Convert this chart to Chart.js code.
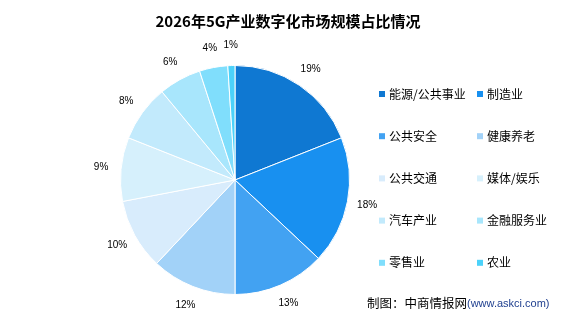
<!DOCTYPE html>
<html>
<head>
<meta charset="utf-8">
<script src="https://cdn.jsdelivr.net/npm/chart.js@4/dist/chart.umd.min.js"></script>
<style>
  html, body { margin: 0; padding: 0; background: #fff; }
  #box { width: 576px; height: 327px; position: relative; }
</style>
</head>
<body>
<div id="box"><canvas id="pie"></canvas></div>
<script>
let title = "2026年5G产业数字化市场规模占比情况",
    sectors = ["能源/公共事业","制造业","公共安全","健康养老","公共交通","媒体/娱乐","汽车产业","金融服务业","零售业","农业"],
    shares = [19,18,13,12,10,9,8,6,4,1],
    colors = ["#0f78d2","#1890f0","#42a2f2","#a2d2f8","#d8ecfc","#d6f0fc","#c2eafc","#a8e6fc","#80defc","#4cd2fa"],
    cjk = '"Noto Sans CJK SC", sans-serif'

// title, outside % labels, two-column legend, source line
let extras = {
    id: "extras",
    afterDraw(chart) {
        let ctx = chart.ctx
        ctx.save()
        ctx.fillStyle = "#000"
        ctx.font = "bold 15px " + cjk
        ctx.textAlign = "center"
        ctx.textBaseline = "middle"
        ctx.fillText(title, 288, 21)

        // percent labels a little outside each slice
        ctx.font = "10px 'Liberation Sans', sans-serif"
        chart.getDatasetMeta(0).data.forEach((arc, i) => {
            let mid = (arc.startAngle + arc.endAngle) / 2,
                r = arc.outerRadius + 20
            ctx.fillText(shares[i] + "%", arc.x + Math.cos(mid) * r, arc.y + Math.sin(mid) * r)
        })

        // legend
        ctx.textAlign = "left"
        ctx.font = "12px " + cjk
        chart.data.labels.forEach((lab, i) => {
            let col = i % 2, row = Math.floor(i / 2),
                x = col ? 477 : 379,
                y = 94 + row * 42.2
            ctx.fillStyle = chart.data.datasets[0].backgroundColor[i]
            ctx.fillRect(x, y - 3, 6, 6)
            ctx.fillStyle = "#000"
            ctx.fillText(lab, x + 10, y)
        })

        // source
        ctx.font = "12.5px " + cjk
        let src = "制图：中商情报网"
        ctx.fillText(src, 367, 303)
        let w = ctx.measureText(src).width
        ctx.fillStyle = "#1f3f8f"
        ctx.font = "11px 'Liberation Sans', sans-serif"
        ctx.fillText("(www.askci.com)", 367 + w, 304)
        ctx.restore()
    }
}

new Chart(document.querySelector("#pie"), {
    type: "pie",
    plugins: [extras],
    data: {
        labels: sectors,
        datasets: [{
            data: shares,
            backgroundColor: colors,
            borderColor: "#fff",
            borderWidth: 1
        }]
    },
    options: {
        responsive: true,
        maintainAspectRatio: false,
        animation: false,
        layout: { padding: { left: 120, right: 226, top: 65, bottom: 32 } },
        plugins: {
            legend: { display: false },
            tooltip: { enabled: false },
            title: { display: false }
        }
    }
})
</script>
</body>
</html>
